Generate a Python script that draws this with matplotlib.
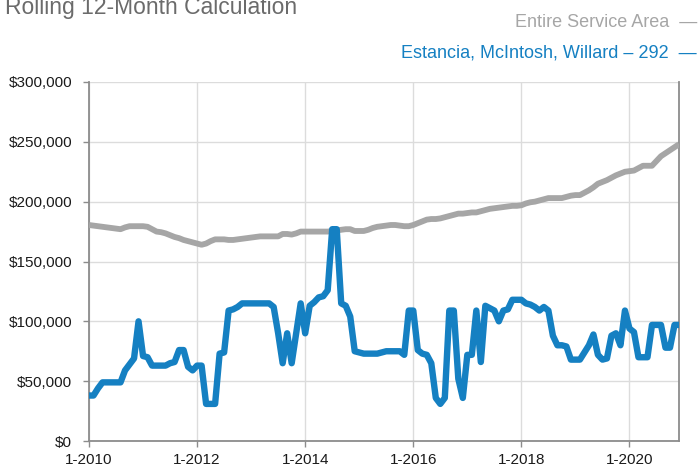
import matplotlib
matplotlib.use("Agg")
import matplotlib.pyplot as plt
from matplotlib.ticker import FuncFormatter, MultipleLocator
import numpy as np

plt.rcParams['font.family'] = ['Liberation Sans', 'DejaVu Sans']

# Monthly rolling 12-month values, Jan 2010 .. Dec 2020 (in $ thousands)
entire_service_area = [
    180.5, 180, 179.5, 179, 178.5, 178, 177.5, 177, 178.5, 179.5, 179.5, 179.5,   # 2010
    179.5, 179, 177, 175, 174.5, 173.5, 172, 170.5, 169.5, 168, 167, 166,         # 2011
    165, 164, 165, 167, 168.5, 168.5, 168.5, 168, 168, 168.5, 169, 169.5,         # 2012
    170, 170.5, 171, 171, 171, 171, 171, 173, 173, 172.5, 173.5, 175,             # 2013
    175, 175, 175, 175, 175, 175, 175.5, 176, 176.5, 177, 177, 175.5,             # 2014
    175.5, 175.5, 176.5, 178, 179, 179.5, 180, 180.5, 180.5, 180, 179.5, 179.5,   # 2015
    180.5, 182, 183.5, 185, 185.5, 185.5, 186, 187, 188, 189, 190, 190,           # 2016
    190.5, 191, 191, 192, 193, 194, 194.5, 195, 195.5, 196, 196.5, 196.5,         # 2017
    197, 198.5, 199.5, 200, 201, 202, 203, 203, 203, 203, 204, 205,               # 2018
    205.5, 205.5, 207.5, 209.5, 212, 215, 216.5, 218, 220, 222, 223.5, 225,       # 2019
    225.5, 226, 228, 230, 230, 230, 234, 238, 240.5, 243, 245.5, 248,             # 2020
]

estancia_mcintosh_willard = [
    38, 38, 44, 49, 49, 49, 49, 49, 59, 64, 69, 100,        # 2010
    71, 70, 63, 63, 63, 63, 65, 66, 76, 76, 62, 59,         # 2011
    63, 63, 31, 31, 31, 73, 74, 109, 110, 112, 115, 115,    # 2012
    115, 115, 115, 115, 115, 112, 90, 65, 90, 65, 90, 115,  # 2013
    90, 113, 116, 120, 121, 126, 177, 177, 115, 113, 104, 75,  # 2014
    74, 73, 73, 73, 73, 74, 75, 75, 75, 75, 72, 109,        # 2015
    109, 76, 73, 72, 65, 36, 31, 36, 109, 109, 52, 36,      # 2016
    72, 72, 109, 66, 113, 111, 109, 100, 109, 110, 118, 118,  # 2017
    118, 115, 114, 112, 109, 112, 109, 88, 80, 80, 79, 68,  # 2018
    68, 68, 74, 80, 89, 72, 68, 69, 88, 90, 80, 109,        # 2019
    94, 91, 70, 70, 70, 97, 97, 97, 78, 78, 97, 97,         # 2020
]

tick_labels = ["1-2010", "1-2012", "1-2014", "1-2016", "1-2018", "1-2020"]

title = "Rolling 12-Month Calculation"
label_entire = "Entire Service Area"
label_local = "Estancia, McIntosh, Willard \u2013 292"

GRAY = "#a6a6a6"
BLUE = "#1580c2"

months = np.arange(len(entire_service_area))
gray_vals = np.array(entire_service_area) * 1000
blue_vals = np.array(estancia_mcintosh_willard) * 1000

fig = plt.figure(figsize=(6.99, 4.68), dpi=100)
ax = fig.add_axes([89 / 699, 27 / 468, 590 / 699, 359 / 468])

ax.plot(months, gray_vals, color=GRAY, lw=4.2, solid_joinstyle='round', solid_capstyle='butt', zorder=3)
ax.plot(months, blue_vals, color=BLUE, lw=4.6, solid_joinstyle='round', solid_capstyle='butt', zorder=4)

ax.set_xlim(0, len(months) - 1)
ax.set_ylim(0, 300000)
ax.set_xticks(np.arange(0, len(months), 24))
ax.set_xticklabels(tick_labels)
ax.yaxis.set_major_locator(MultipleLocator(50000))
ax.yaxis.set_major_formatter(FuncFormatter(lambda v, p: f"${int(v):,}"))

ax.grid(True, color="#dcdcdc", lw=1.0, zorder=0)
ax.set_axisbelow(True)
for side in ["left", "bottom", "right"]:
    ax.spines[side].set_color("#8c8c8c")
    ax.spines[side].set_linewidth(1.3)
ax.spines["top"].set_visible(False)

ax.tick_params(axis='both', direction='out', length=4, width=1, color="#8c8c8c",
               labelsize=11, labelcolor="#1a1a1a")
ax.tick_params(axis='y', pad=8)
ax.tick_params(axis='x', pad=4.5)

fig.text(5 / 699, 1 - 14 / 468, title, ha='left', va='baseline', fontsize=16.5, color="#6b6b6b")
fig.text(697 / 699, 1 - 27.3 / 468, label_entire + "  \u2014", ha='right', va='baseline',
         fontsize=13, color=GRAY)
fig.text(697 / 699, 1 - 57.3 / 468, label_local + "  \u2014", ha='right', va='baseline',
         fontsize=13, color=BLUE)

fig.savefig("out.png", dpi=100)
